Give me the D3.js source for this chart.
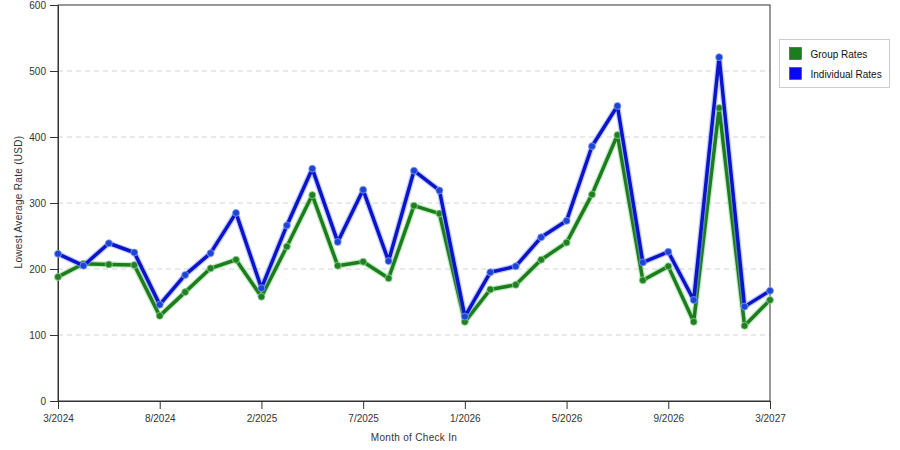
<!DOCTYPE html>
<html>
<head>
<meta charset="utf-8">
<script src="https://cdn.jsdelivr.net/npm/d3@7"></script>
<style>
  body { margin: 0; background: #fff; }
  text { font-family: "Liberation Sans", Arial, sans-serif; fill: #333; }
</style>
</head>
<body>
<div id="chart"></div>
<script>
// Data
var months = ["3/2024", "4/2024", "5/2024", "6/2024", "8/2024", "9/2024", "10/2024", "12/2024",
  "2/2025", "3/2025", "4/2025", "5/2025", "7/2025", "8/2025", "9/2025", "10/2025",
  "1/2026", "2/2026", "3/2026", "4/2026", "5/2026", "6/2026", "7/2026", "8/2026",
  "9/2026", "10/2026", "11/2026", "2/2027", "3/2027"];
var tickLabels = ["3/2024", "8/2024", "2/2025", "7/2025", "1/2026", "5/2026", "9/2026", "3/2027"];
var groupRates = [188, 208, 207, 206, 129, 165, 201, 214, 158, 234, 312, 205, 211, 186, 296, 284,
  120, 169, 176, 214, 240, 313, 403, 183, 204, 120, 444, 114, 153];
var individualRates = [223, 205, 239, 225, 146, 191, 224, 285, 171, 266, 352, 241, 320, 212, 349, 319,
  128, 195, 204, 248, 273, 386, 447, 210, 226, 153, 521, 143, 167];
var yTicks = [0, 100, 200, 300, 400, 500, 600];

var svgWidth = 900;
var svgHeight = 450;
var margin = { top: 5, right: 130, bottom: 49, left: 58 };
var width = svgWidth - margin.left - margin.right;
var height = svgHeight - margin.top - margin.bottom;

var svg = d3.select("#chart")
  .append("svg")
  .attr("width", svgWidth)
  .attr("height", svgHeight);

var chartGroup = svg.append("g")
  .attr("transform", `translate(${margin.left}, ${margin.top})`);

var xScale = d3.scalePoint()
  .domain(months)
  .range([0, width]);

var yScale = d3.scaleLinear()
  .domain([0, 600])
  .range([height, 0]);

// dashed gridlines
chartGroup.selectAll(".grid")
  .data(yTicks.filter(d => d > 0 && d < 600))
  .enter()
  .append("line")
  .attr("x1", 0)
  .attr("x2", width)
  .attr("y1", d => yScale(d))
  .attr("y2", d => yScale(d))
  .attr("stroke", "#d4d4d4")
  .attr("stroke-dasharray", "5,4");

// frame
chartGroup.append("rect")
  .attr("width", width)
  .attr("height", height)
  .attr("fill", "none")
  .attr("stroke", "#333");

// axes
var bottomAxis = d3.axisBottom(xScale).tickValues(tickLabels).tickSize(8).tickSizeOuter(0).tickPadding(6);
var leftAxis = d3.axisLeft(yScale).tickValues(yTicks).tickSize(8).tickSizeOuter(0).tickPadding(4);

var xAxisG = chartGroup.append("g")
  .attr("transform", `translate(0, ${height})`)
  .call(bottomAxis);
var yAxisG = chartGroup.append("g")
  .call(leftAxis);

[xAxisG, yAxisG].forEach(function(g) {
  g.select(".domain").attr("stroke", "#333");
  g.selectAll(".tick line").attr("stroke", "#333");
  g.selectAll(".tick text")
    .style("font-family", "'Liberation Sans', Arial, sans-serif")
    .style("font-size", "10px")
    .attr("fill", "#333");
});

// series
var series = [
  { name: "Group Rates", values: groupRates, color: "#1b7d1b", halo: "#8fd88f", marker: "#237f23", swatch: "#1a7f1a" },
  { name: "Individual Rates", values: individualRates, color: "#0a14cc", halo: "#8a9cff", marker: "#1c46d2", swatch: "#0808f0" }
];

var line = d3.line()
  .x((d, i) => xScale(months[i]))
  .y(d => yScale(d));

series.forEach(function(s) {
  chartGroup.append("path")
    .datum(s.values)
    .attr("d", line)
    .attr("fill", "none")
    .attr("stroke", s.halo)
    .attr("stroke-width", 6)
    .attr("stroke-opacity", 0.5)
    .attr("stroke-linejoin", "round");

  chartGroup.append("path")
    .datum(s.values)
    .attr("d", line)
    .attr("fill", "none")
    .attr("stroke", s.color)
    .attr("stroke-width", 3.5)
    .attr("stroke-linejoin", "round");

  chartGroup.selectAll(null)
    .data(s.values)
    .enter()
    .append("circle")
    .attr("cx", (d, i) => xScale(months[i]))
    .attr("cy", d => yScale(d))
    .attr("r", 3.5)
    .attr("fill", s.marker)
    .attr("stroke", s.halo)
    .attr("stroke-opacity", 0.8)
    .attr("stroke-width", 1);
});

// axis titles
chartGroup.append("text")
  .attr("transform", "rotate(-90)")
  .attr("x", -(height / 2) + 1)
  .attr("y", -36)
  .attr("text-anchor", "middle")
  .style("font-size", "10px")
  .style("letter-spacing", "0.3px")
  .text("Lowest Average Rate (USD)");

chartGroup.append("text")
  .attr("x", width / 2)
  .attr("y", height + 40)
  .attr("text-anchor", "middle")
  .style("font-size", "10px")
  .style("letter-spacing", "0.3px")
  .text("Month of Check In");

// legend
var legend = svg.append("g").attr("transform", "translate(779.5, 39.5)");
legend.append("rect")
  .attr("width", 110)
  .attr("height", 48)
  .attr("fill", "#fff")
  .attr("stroke", "#ccc");

var legendItems = legend.selectAll(".item")
  .data(series)
  .enter()
  .append("g")
  .attr("transform", (d, i) => `translate(10, ${8 + i * 20})`);

legendItems.append("rect")
  .attr("width", 12)
  .attr("height", 12)
  .attr("fill", d => d.swatch)
  .attr("stroke", "#333")
  .attr("stroke-width", 0.5);

legendItems.append("text")
  .attr("x", 21)
  .attr("y", 10)
  .style("font-size", "10px")
  .style("fill", "#111")
  .text(d => d.name);
</script>
</body>
</html>
